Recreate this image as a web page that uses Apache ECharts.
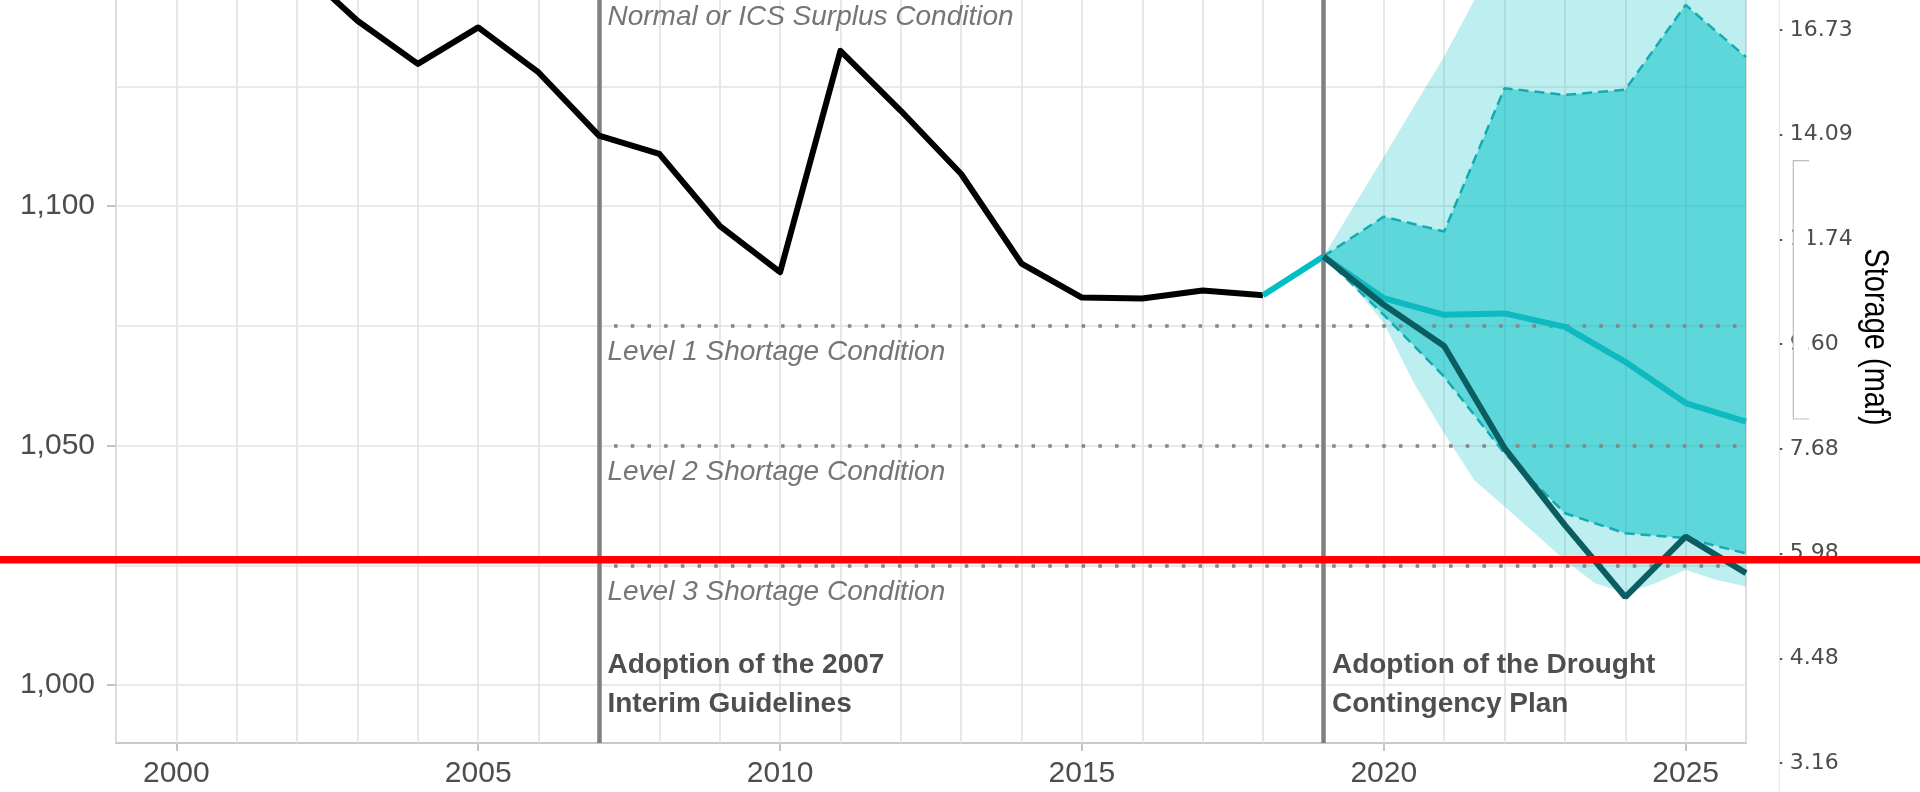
<!DOCTYPE html>
<html>
<head>
<meta charset="utf-8">
<script src="https://cdn.jsdelivr.net/npm/echarts@6/dist/echarts.min.js"></script>
<style>
html,body{margin:0;padding:0;background:#ffffff;}
#chart{width:1920px;height:792px;}
</style>
</head>
<body>
<div id="chart"></div>
<script>
// ---------------- DATA ----------------
const histYears = [2002,2003,2004,2005,2006,2007,2008,2009,2010,2011,2012,2013,2014,2015,2016,2017,2018];
const histElevation = [1150.2,1138.7,1129.7,1137.3,1127.9,1114.7,1110.9,1095.9,1086.2,1132.4,1119.9,1106.7,1088.0,1080.9,1080.7,1082.4,1081.4];

const bridgeYears = [2018, 2019];
const bridgeElevation = [1081.4, 1089.5];

const projYears = [2019,2020,2021,2022,2023,2024,2025,2026];
const projMedian = [1089.5,1080.8,1077.3,1077.6,1074.8,1067.5,1058.9,1055.0];
const projTrace  = [1089.5,1079.4,1070.8,1049.5,1033.4,1018.4,1031.0,1023.4];
const projP90    = [1089.5,1097.8,1094.7,1124.6,1123.2,1124.3,1142.0,1131.1];
const projP10    = [1089.5,1077.3,1064.4,1048.4,1035.9,1031.7,1030.7,1027.5];

const envYears = [2019,2019.5,2020,2020.5,2021,2021.5,2022,2022.5,2023,2023.5,2024,2024.5,2025,2025.5,2026];
const envMin = [1089.5,1083.2,1075.6,1063.0,1052.6,1042.8,1037.3,1031.7,1026.1,1021.3,1019.2,1021.3,1024.1,1022.0,1020.6];
const envMax = [1089.5,1099.9,1110.3,1120.8,1131.2,1143.0,1152.0,1158.0,1163.0,1167.0,1170.0,1173.0,1176.0,1178.0,1180.0];

const conditionLevels = [1145, 1075, 1050, 1025];
const conditionLabels = ['Normal or ICS Surplus Condition','Level 1 Shortage Condition','Level 2 Shortage Condition','Level 3 Shortage Condition'];
const conditionStartYear = 2007.25;
const conditionEndYear = 2026;

const eventYears = [2007, 2019];
const eventLabels = ['Adoption of the 2007\nInterim Guidelines', 'Adoption of the Drought\nContingency Plan'];
const eventLabelLevel = 1000;

const xTickLabels = [2000, 2005, 2010, 2015, 2020, 2025];
const yTickLabels = [1000, 1050, 1100];
const yGridValues = [1000, 1025, 1050, 1075, 1100, 1125];
const storageTickLabels = ['3.16','4.48','5.98','7.68','9.60','11.74','14.09','16.73'];
const storageTitle = 'Storage (maf)';

const markerLevel = 1026.2;

const xMin = 1999, xMax = 2026;
const yMin = 987.93, yMax = 1147.2;

// ---------------- CHART ----------------
const gridYears = [];
for (let y = xMin; y <= xMax; y++) gridYears.push(y);

const pairs = (xs, ys) => xs.map((x, i) => [x, ys[i]]);

function bandSeries(xs, lo, hi, fill, z) {
  return {
    type: 'custom', xAxisIndex: 0, yAxisIndex: 0, z: z, silent: true,
    data: xs.map((x, i) => [x, lo[i], hi[i]]),
    encode: { x: 0, y: [1, 2] },
    renderItem: function (params, api) {
      if (params.dataIndex !== 0) return null;
      const pts = [];
      for (let i = 0; i < xs.length; i++) pts.push(api.coord([xs[i], hi[i]]));
      for (let i = xs.length - 1; i >= 0; i--) pts.push(api.coord([xs[i], lo[i]]));
      return { type: 'polygon', shape: { points: pts }, style: { fill: fill, stroke: null } };
    }
  };
}

const chart = echarts.init(document.getElementById('chart'), null, { renderer: 'canvas' });

const FONT = 'Liberation Sans';
const option = {
  animation: false,
  backgroundColor: '#ffffff',
  textStyle: { fontFamily: FONT },
  grid: [
    { left: 116, right: 174, bottom: 49, height: 763, outerBoundsMode: 'none', containLabel: false,
      show: true, borderColor: '#c8c8c8', borderWidth: 2, backgroundColor: 'transparent' },
    { left: 1779.3, width: 100, top: 30, bottom: 29, outerBoundsMode: 'none', show: false }
  ],
  xAxis: [
    { type: 'value', gridIndex: 0, min: xMin, max: xMax, position: 'bottom',
      axisLine: { show: false }, axisTick: { show: false, customValues: gridYears },
      axisLabel: { show: false }, splitLine: { show: true, lineStyle: { color: '#e3e3e3', width: 1.6 } } },
    { type: 'value', gridIndex: 0, min: xMin, max: xMax, position: 'bottom', offset: 0,
      axisLine: { show: false },
      axisTick: { show: true, customValues: xTickLabels, length: 8, lineStyle: { color: '#c4c4c4', width: 2 } },
      axisLabel: { show: true, customValues: xTickLabels, margin: 16, fontSize: 30, color: '#4d4d4d', fontFamily: FONT, formatter: v => String(v) },
      splitLine: { show: false } },
    { type: 'value', gridIndex: 1, show: false }
  ],
  yAxis: [
    { type: 'value', gridIndex: 0, min: yMin, max: yMax, position: 'left',
      axisLine: { show: false }, axisTick: { show: false, customValues: yGridValues },
      axisLabel: { show: false }, splitLine: { show: true, lineStyle: { color: '#e3e3e3', width: 1.6 } } },
    { type: 'value', gridIndex: 0, min: yMin, max: yMax, position: 'left', offset: 0,
      axisLine: { show: false },
      axisTick: { show: true, customValues: yTickLabels, length: 9, lineStyle: { color: '#c4c4c4', width: 2 } },
      axisLabel: { show: true, customValues: yTickLabels, margin: 21, fontSize: 30, color: '#4d4d4d', fontFamily: FONT,
        formatter: v => Number(v).toLocaleString('en-US') },
      splitLine: { show: false } },
    { type: 'category', gridIndex: 1, position: 'left', data: storageTickLabels, boundaryGap: false,
      axisLine: { show: true, lineStyle: { color: '#e6e6e6', width: 1 } },
      axisTick: { show: true, inside: true, length: 3, lineStyle: { color: '#555555', width: 2 } },
      axisLabel: { show: true, inside: true, interval: 0, margin: 10.5, fontSize: 22, fontFamily: 'DejaVu Sans', color: '#4d4d4d', align: 'left' },
      splitLine: { show: false } }
  ],
  series: [
    bandSeries(envYears, envMin, envMax, 'rgba(0,191,196,0.26)', 1),
    bandSeries(projYears, projP10, projP90, 'rgba(0,191,196,0.50)', 2),
    { type: 'line', name: 'p90', xAxisIndex: 0, yAxisIndex: 0, z: 3, data: pairs(projYears, projP90), symbol: 'none', silent: true,
      lineStyle: { color: '#13abb2', width: 2.5, type: [10, 6] } },
    { type: 'line', name: 'p10', xAxisIndex: 0, yAxisIndex: 0, z: 3, data: pairs(projYears, projP10), symbol: 'none', silent: true,
      lineStyle: { color: '#13abb2', width: 2.5, type: [10, 6] } },
    { type: 'line', name: 'history', xAxisIndex: 0, yAxisIndex: 0, z: 6, data: pairs(histYears, histElevation), symbol: 'none', silent: true,
      lineStyle: { color: '#000000', width: 6, join: 'round' },
      markLine: {
        silent: true, symbol: 'none', z: 5, label: { show: false },
        data: conditionLevels.map(l => [
          { coord: [conditionStartYear, l], lineStyle: { color: '#858585', width: 3.5, type: [3.5, 13.2], cap: 'butt' } },
          { coord: [conditionEndYear, l] }
        ]).concat(eventYears.map(y => ({ xAxis: y, lineStyle: { color: '#808080', width: 4.5, type: 'solid' } })))
      } },
    { type: 'line', name: 'bridge', xAxisIndex: 0, yAxisIndex: 0, z: 6, data: pairs(bridgeYears, bridgeElevation), symbol: 'none', silent: true,
      lineStyle: { color: '#00bfc4', width: 6 } },
    { type: 'line', name: 'median', xAxisIndex: 0, yAxisIndex: 0, z: 6, data: pairs(projYears, projMedian), symbol: 'none', silent: true,
      lineStyle: { color: '#0fb9c0', width: 6, join: 'round' } },
    { type: 'line', name: 'trace', xAxisIndex: 0, yAxisIndex: 0, z: 6, data: pairs(projYears, projTrace), symbol: 'none', silent: true,
      lineStyle: { color: '#0a5e61', width: 6 } },
    { type: 'scatter', name: 'conditionText', xAxisIndex: 0, yAxisIndex: 0, z: 7, silent: true, symbolSize: 1,
      itemStyle: { color: 'rgba(0,0,0,0)' },
      data: conditionLevels.map((l, i) => ({ value: [eventYears[0], l], name: conditionLabels[i] })),
      label: { show: true, position: 'right', distance: 0, offset: [8, 26.5], formatter: p => p.name,
        fontSize: 28, fontStyle: 'italic', fontFamily: FONT, color: '#525252', align: 'left', verticalAlign: 'middle' } },
    { type: 'scatter', name: 'eventText', xAxisIndex: 0, yAxisIndex: 0, z: 7, silent: true, symbolSize: 1,
      itemStyle: { color: 'rgba(0,0,0,0)' },
      data: eventYears.map((y, i) => ({ value: [y, eventLabelLevel], name: eventLabels[i] })),
      label: { show: true, position: 'right', distance: 0, offset: [8, 0], formatter: p => p.name,
        fontSize: 28, fontWeight: 'bold', lineHeight: 39, fontFamily: FONT, color: '#222222', align: 'left', verticalAlign: 'middle' } }
  ]
};
chart.setOption(option);

// decorations computed from the chart's own scales / layout
const redY = chart.convertToPixel({ yAxisIndex: 0 }, markerLevel);
const axisX = 1779.3;
chart.setOption({
  graphic: [
    { type: 'line', z: 90, silent: true, shape: { x1: axisX, y1: 0, x2: axisX, y2: 792 }, style: { stroke: '#e6e6e6', lineWidth: 1 } },
    { type: 'rect', z: 95, silent: true, shape: { x: 1793.3, y: 160.7, width: 15, height: 258.3 }, style: { fill: '#ffffff' } },
    { type: 'polyline', z: 96, silent: true, shape: { points: [[1809, 160.7], [1793.3, 160.7], [1793.3, 419], [1809, 419]] }, style: { stroke: '#bdbdbd', lineWidth: 1.2, fill: null } },
    { type: 'text', z: 96, silent: true, x: 1875, y: 337, rotation: -Math.PI / 2, scaleY: 1.2,
      style: { text: storageTitle, fontSize: 29, fontFamily: FONT, fill: '#000000', align: 'center', verticalAlign: 'middle', textAlign: 'center', textVerticalAlign: 'middle' } },
    { type: 'line', z: 100, silent: true, shape: { x1: 0, y1: redY, x2: 1920, y2: redY }, style: { stroke: '#ff0000', lineWidth: 7.5 } }
  ]
});
</script>
</body>
</html>
